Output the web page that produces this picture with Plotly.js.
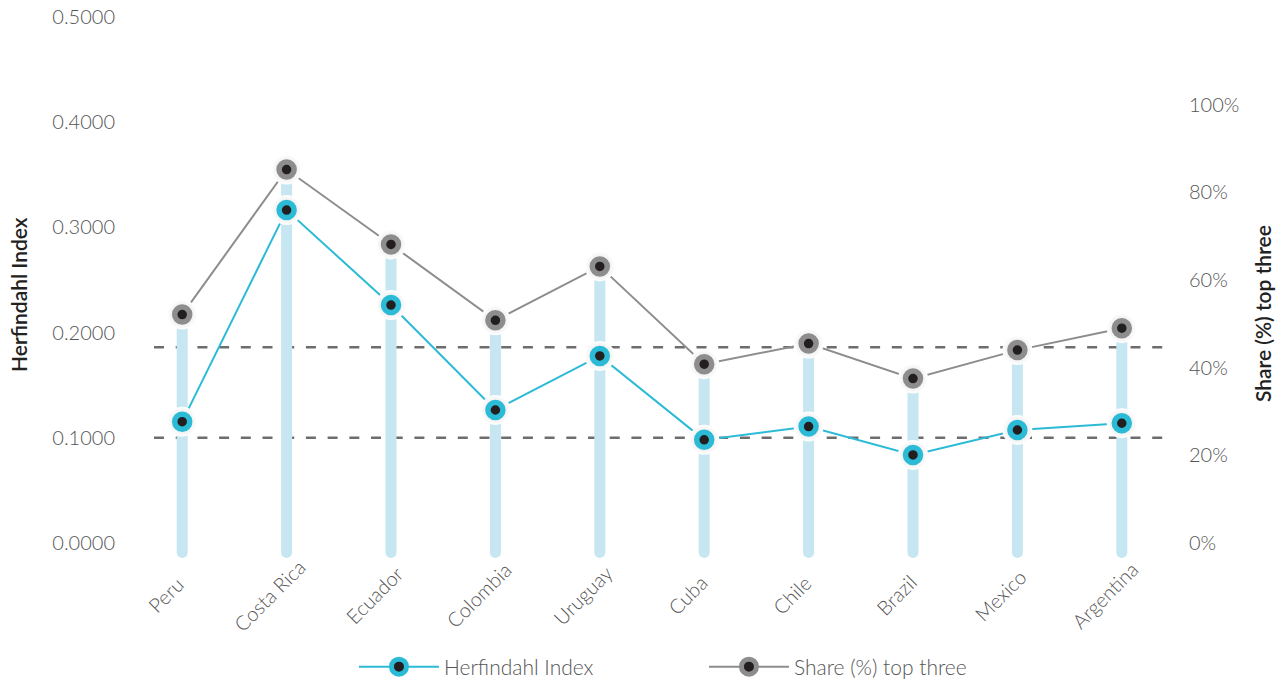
<!DOCTYPE html>
<html>
<head>
<meta charset="utf-8">
<script src="https://cdn.plot.ly/plotly-3.0.1.min.js"></script>
<style>
  html, body { margin: 0; padding: 0; background: #ffffff; }
  #chart { width: 1286px; height: 687px; }
  /* rounded ends for the stems */
  .scatterlayer path.js-line { stroke-linecap: round; }
</style>
</head>
<body>
<div id="chart"></div>
<script>
// Market concentration by country
const countries = ['Peru', 'Costa Rica', 'Ecuador', 'Colombia', 'Uruguay',
                   'Cuba', 'Chile', 'Brazil', 'Mexico', 'Argentina'];
const herfindahl = [0.1153, 0.3165, 0.2262, 0.1264, 0.1778,
                    0.0980, 0.1106, 0.0837, 0.1074, 0.1138];
const shareTop3 = [52.1, 85.2, 68.1, 50.8, 63.1, 40.8, 45.5, 37.5, 44.0, 49.0];
const thresholds = [0.1000, 0.1860];
const leftTicks = [0, 0.1, 0.2, 0.3, 0.4, 0.5];
const rightTicks = [0, 20, 40, 60, 80, 100];
const leftTitle = 'Herfindahl Index';
const rightTitle = 'Share (%) top three';

// axis ranges (the right axis is the left one scaled by Y2_PER_Y)
const Y_MIN = -0.02;
const Y_MAX = 0.5;
const Y2_PER_Y = 240;
const STEM_BASE = -0.009;

const CYAN = '#2bbbd6';
const GREY = '#8d8d8d';
const DOT = '#231f20';
const STEM = '#c6e7f1';
const FONT = 'Lato, "Open Sans", sans-serif';

// stems: one segment per country, from just below zero up to the share marker
const stemX = [], stemY = [];
countries.forEach((c, i) => {
  stemX.push(c, c, c);
  stemY.push(STEM_BASE, shareTop3[i] / Y2_PER_Y, null);
});

const halo = (y, yaxis) => ({
  type: 'scatter', mode: 'markers', x: countries, y: y, yaxis: yaxis,
  showlegend: false, hoverinfo: 'skip',
  marker: { size: 30, color: '#ffffff', gradient: { type: 'radial', color: '#d6d6d6' },
            line: { width: 0 } }
});

const ring = (y, yaxis, color, name, legend, mode) => ({
  type: 'scatter', mode: mode, x: countries, y: y, yaxis: yaxis,
  name: name, showlegend: legend,
  line: { color: color, width: 2 },
  marker: { size: 15, color: DOT, line: { color: color, width: 5.5 } }
});

const traces = [
  { type: 'scatter', mode: 'lines', x: stemX, y: stemY, yaxis: 'y',
    showlegend: false, hoverinfo: 'skip', connectgaps: false,
    line: { color: STEM, width: 11 } },
  ring(herfindahl, 'y', CYAN, leftTitle, true, 'lines+markers'),
  halo(herfindahl, 'y'),
  ring(herfindahl, 'y', CYAN, leftTitle, false, 'markers'),
  ring(shareTop3, 'y2', GREY, rightTitle, true, 'lines+markers'),
  halo(shareTop3, 'y2'),
  ring(shareTop3, 'y2', GREY, rightTitle, false, 'markers')
];

const shapes = thresholds.map(v => ({
  type: 'line', layer: 'below', xref: 'paper', yref: 'y',
  x0: 0.023, x1: 0.997, y0: v, y1: v,
  line: { color: '#6d6d6d', width: 2.5, dash: '10px,11.7px' }
}));

// category labels, rotated about their centre below each stem
const categoryLabels = countries.map(c => ({
  x: c, xref: 'x', y: 0, yref: 'paper', yshift: -31, xshift: -17,
  text: c, showarrow: false, textangle: -45,
  xanchor: 'center', yanchor: 'middle',
  font: { family: FONT, size: 20, color: '#555555', weight: 300 }
}));

const titleFont = { family: FONT, size: 21, color: '#222222', weight: 600 };

// vertical axis titles
const axisTitles = [
  { text: leftTitle, xref: 'paper', yref: 'paper', x: -0.1063, y: 0.4918,
    textangle: -90, showarrow: false, xanchor: 'center', yanchor: 'middle', font: titleFont },
  { text: rightTitle, xref: 'paper', yref: 'paper', x: 1.0843, y: 0.457,
    textangle: -90, showarrow: false, xanchor: 'center', yanchor: 'middle', font: titleFont }
];

const tickFont = { family: FONT, size: 20, color: '#555555', weight: 300 };

const layout = {
  width: 1286, height: 687,
  margin: { l: 130, r: 112, t: 17, b: 123, autoexpand: false },
  paper_bgcolor: '#ffffff', plot_bgcolor: '#ffffff',
  font: { family: FONT, color: '#555555' },
  showlegend: true,
  legend: {
    orientation: 'h', xref: 'container', yref: 'container',
    x: 0.5474, xanchor: 'center', y: 0.0291, yanchor: 'middle',
    font: { family: FONT, size: 21, color: '#555555', weight: 300 },
    entrywidth: 255, itemwidth: 80, traceorder: 'normal'
  },
  xaxis: {
    type: 'category', range: [-0.5, 9.5], showgrid: false, zeroline: false,
    showline: false, ticks: '', showticklabels: false, fixedrange: true
  },
  yaxis: {
    range: [Y_MIN, Y_MAX], tickvals: leftTicks, tickformat: '.4f',
    showgrid: false, zeroline: false, showline: false, ticks: '',
    tickfont: tickFont, ticklabelstandoff: 14
  },
  yaxis2: {
    overlaying: 'y', side: 'right', range: [Y_MIN * Y2_PER_Y, Y_MAX * Y2_PER_Y],
    tickvals: rightTicks, ticktext: rightTicks.map(v => v + '%'),
    showgrid: false, zeroline: false, showline: false, ticks: '',
    tickfont: tickFont, ticklabelstandoff: 14
  },
  shapes: shapes,
  annotations: categoryLabels.concat(axisTitles)
};

Plotly.newPlot('chart', traces, layout, { displayModeBar: false, staticPlot: true });
</script>
</body>
</html>
